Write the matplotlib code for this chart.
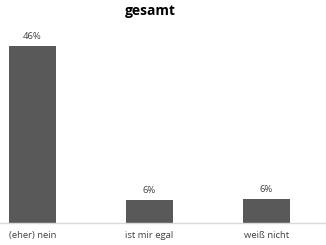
import numpy as np
import matplotlib.pyplot as plt

plt.rcParams['font.family'] = ['Open Sans', 'DejaVu Sans']

categories = ['(eher) nein', 'ist mir egal', 'weiß nicht']
values = [46, 6.0, 6.2]
labels = ['46%', '6%', '6%']

fig = plt.figure(figsize=(3.26, 2.45), dpi=100)
ax = fig.add_axes([0, 22/245, 1, 192.4/245])
x = np.arange(len(categories))
ax.bar(x, values, width=47/117, color='#595959')
for xi, v, l in zip(x, values, labels):
    ax.text(xi, v + 1.4, l, ha='center', va='bottom', fontsize=6.8, color='#404040')
ax.set_xlim(-32.5/117, (326-32.5)/117)
ax.set_ylim(0, 50)
ax.set_xticks(x)
ax.set_xticklabels(categories, fontsize=6.8, color='#404040')
ax.tick_params(axis='x', length=0, pad=6)
ax.set_yticks([])
for s in ['top', 'right', 'left']:
    ax.spines[s].set_visible(False)
ax.spines['bottom'].set_color('#d9d9d9')
ax.spines['bottom'].set_linewidth(1)
fig.text(150/326, 1 - 11/245, 'gesamt', ha='center', va='center', fontsize=10, fontweight='bold', color='black')
fig.savefig('out.png', dpi=100)
